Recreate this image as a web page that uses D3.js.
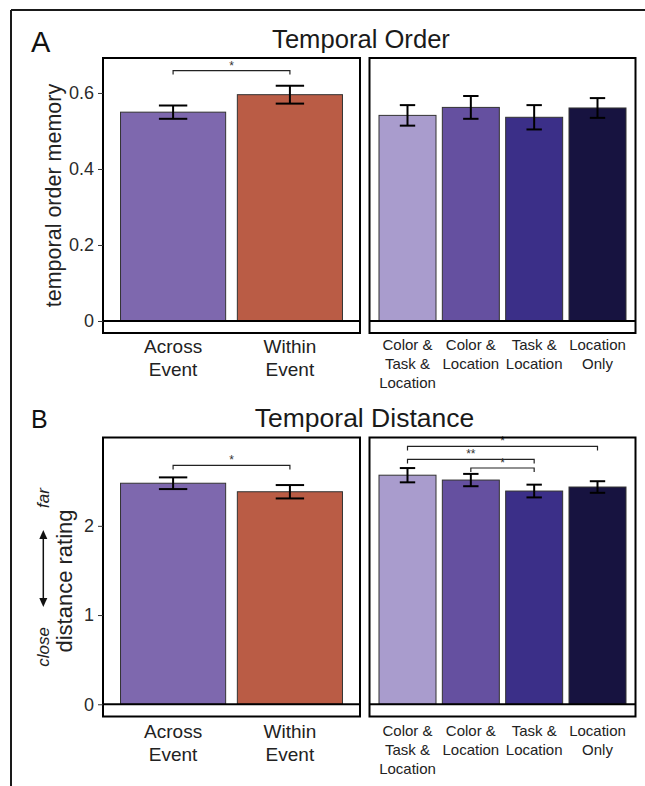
<!DOCTYPE html>
<html>
<head>
<meta charset="utf-8">
<script src="https://cdn.jsdelivr.net/npm/d3@7"></script>
<style>
  body { margin: 0; background: #fff; }
  svg { display: block; font-family: "Liberation Sans", Arial, Helvetica, sans-serif; }
</style>
</head>
<body>
<svg id="chart" width="645" height="786"></svg>
<script>
// ---- data ----
const eventCats = ["Across\nEvent", "Within\nEvent"];
const featureCats = ["Color &\nTask &\nLocation", "Color &\nLocation", "Task &\nLocation", "Location\nOnly"];

const eventColors = ["#7e68ae", "#ba5c45"];
const featureColors = ["#a99ccd", "#6550a0", "#3b2f88", "#171340"];

// temporal order memory
const orderEventMean = [0.5495, 0.5955];
const orderEventErr = [0.0175, 0.0235];
const orderFeatMean = [0.541, 0.562, 0.536, 0.5605];
const orderFeatErr = [0.027, 0.030, 0.032, 0.026];

// temporal distance rating
const distEventMean = [2.4775, 2.382];
const distEventErr = [0.0655, 0.075];
const distFeatMean = [2.5675, 2.513, 2.39, 2.435];
const distFeatErr = [0.08, 0.069, 0.0715, 0.065];

const orderTicks = [0, 0.2, 0.4, 0.6];
const distTicks = [0, 1, 2];

// significance brackets: [from index, to index, y, label]
const orderEventSig = [[0, 1, 0.659, "*"]];
const distEventSig = [[0, 1, 2.677, "*"]];
const distFeatSig = [[0, 3, 2.89, "*"], [0, 2, 2.744, "**"], [1, 2, 2.648, "*"]];

const svg = d3.select("#chart");

// outer figure frame (only top and left edges visible)
svg.append("line").attr("x1", 11).attr("x2", 645).attr("y1", 10).attr("y2", 10)
  .attr("stroke", "#1a1a1a").attr("stroke-width", 2);
svg.append("line").attr("x1", 11).attr("x2", 11).attr("y1", 10).attr("y2", 786)
  .attr("stroke", "#1a1a1a").attr("stroke-width", 2);

function drawPanel(opt) {
  const g = svg.append("g");
  const x = d3.scaleBand().domain(opt.cats).range([opt.x0, opt.x1])
    .paddingInner(0.1).paddingOuter(0.15);
  const y = opt.y;
  const rows = opt.cats.map((c, i) => ({ cat: c, mean: opt.mean[i], err: opt.err[i], color: opt.colors[i] }));

  g.selectAll("rect.bar").data(rows).join("rect")
    .attr("class", "bar")
    .attr("x", d => x(d.cat))
    .attr("width", x.bandwidth())
    .attr("y", d => y(d.mean))
    .attr("height", d => y(0) - y(d.mean))
    .attr("fill", d => d.color)
    .attr("stroke", "#333")
    .attr("stroke-width", 1);

  // error bars
  const cap = x.bandwidth() * 0.27;
  const eb = g.selectAll("g.eb").data(rows).join("g").attr("class", "eb")
    .attr("stroke", "#000").attr("stroke-width", 2);
  eb.append("line")
    .attr("x1", d => x(d.cat) + x.bandwidth() / 2).attr("x2", d => x(d.cat) + x.bandwidth() / 2)
    .attr("y1", d => y(d.mean - d.err)).attr("y2", d => y(d.mean + d.err));
  eb.append("line")
    .attr("x1", d => x(d.cat) + x.bandwidth() / 2 - cap / 2).attr("x2", d => x(d.cat) + x.bandwidth() / 2 + cap / 2)
    .attr("y1", d => y(d.mean + d.err)).attr("y2", d => y(d.mean + d.err));
  eb.append("line")
    .attr("x1", d => x(d.cat) + x.bandwidth() / 2 - cap / 2).attr("x2", d => x(d.cat) + x.bandwidth() / 2 + cap / 2)
    .attr("y1", d => y(d.mean - d.err)).attr("y2", d => y(d.mean - d.err));

  // significance brackets
  const cx = i => x(opt.cats[i]) + x.bandwidth() / 2;
  (opt.sig || []).forEach(s => {
    const yy = y(s[2]);
    g.append("path")
      .attr("d", `M${cx(s[0])},${yy + 4}V${yy}H${cx(s[1])}V${yy + 4}`)
      .attr("fill", "none").attr("stroke", "#222").attr("stroke-width", 1.2);
    g.append("text")
      .attr("x", (cx(s[0]) + cx(s[1])) / 2).attr("y", yy - 1)
      .attr("text-anchor", "middle").attr("font-size", 12).attr("fill", "#333")
      .text(s[3]);
  });

  // zero line
  g.append("line").attr("x1", opt.x0).attr("x2", opt.x1)
    .attr("y1", y(0)).attr("y2", y(0)).attr("stroke", "#000").attr("stroke-width", 2);

  // panel border
  g.append("rect").attr("x", opt.x0).attr("y", y.range()[1])
    .attr("width", opt.x1 - opt.x0).attr("height", y.range()[0] - y.range()[1])
    .attr("fill", "none").attr("stroke", "#000").attr("stroke-width", 2);

  // category labels
  const labs = g.selectAll("text.cat").data(rows).join("text")
    .attr("class", "cat")
    .attr("text-anchor", "middle")
    .attr("font-size", opt.labelSize)
    .attr("fill", "#222")
    .attr("transform", d => `translate(${x(d.cat) + x.bandwidth() / 2},${y.range()[0] + opt.labelOffset})`);
  labs.selectAll("tspan").data(d => d.cat.split("\n")).join("tspan")
    .attr("x", 0).attr("y", (d, i) => i * opt.lineHeight).text(d => d);

  if (opt.ticks) {
    const ax = g.append("g").attr("transform", `translate(${opt.x0},0)`)
      .call(d3.axisLeft(y).tickValues(opt.ticks).tickSize(5).tickPadding(4).tickFormat(d3.format("")));
    ax.select(".domain").remove();
    ax.selectAll("line").attr("stroke", "#333");
    ax.selectAll("text").attr("font-size", 18).attr("fill", "#2a2a2a")
      .attr("font-family", "'Liberation Sans', Arial, sans-serif");
  }
}

// ---- Panel A: temporal order ----
const yOrder = d3.scaleLinear().domain([-0.0316, 0.692]).range([333, 58]);
drawPanel({ cats: eventCats, mean: orderEventMean, err: orderEventErr, colors: eventColors,
  x0: 103, x1: 360, y: yOrder, ticks: orderTicks, sig: orderEventSig,
  labelSize: 19, labelOffset: 19.5, lineHeight: 23 });
drawPanel({ cats: featureCats, mean: orderFeatMean, err: orderFeatErr, colors: featureColors,
  x0: 369.5, x1: 635.5, y: yOrder, labelSize: 15, labelOffset: 17, lineHeight: 19 });

// ---- Panel B: temporal distance ----
const yDist = d3.scaleLinear().domain([-0.137, 2.99]).range([716.5, 437.5]);
drawPanel({ cats: eventCats, mean: distEventMean, err: distEventErr, colors: eventColors,
  x0: 103, x1: 360, y: yDist, ticks: distTicks, sig: distEventSig,
  labelSize: 19, labelOffset: 21.5, lineHeight: 23 });
drawPanel({ cats: featureCats, mean: distFeatMean, err: distFeatErr, colors: featureColors,
  x0: 369.5, x1: 635.5, y: yDist, sig: distFeatSig, labelSize: 15, labelOffset: 19.5, lineHeight: 19 });

// titles and panel letters
svg.append("text").attr("x", 361).attr("y", 47.5).attr("text-anchor", "middle")
  .attr("font-size", 25.6).attr("fill", "#1a1a1a").text("Temporal Order");
svg.append("text").attr("x", 364.5).attr("y", 427).attr("text-anchor", "middle")
  .attr("font-size", 26.5).attr("fill", "#1a1a1a").text("Temporal Distance");
svg.append("text").attr("x", 31).attr("y", 51.5).attr("font-size", 29).attr("fill", "#111").text("A");
svg.append("text").attr("x", 31).attr("y", 428).attr("font-size", 25).attr("fill", "#111").text("B");

// y-axis titles
svg.append("text").attr("transform", `translate(61,${(58 + 333) / 2}) rotate(-90)`)
  .attr("text-anchor", "middle").attr("font-size", 21.5).attr("fill", "#222")
  .text("temporal order memory");
svg.append("text").attr("transform", `translate(72,${(437.5 + 716.5) / 2 + 4}) rotate(-90)`)
  .attr("text-anchor", "middle").attr("font-size", 22).attr("fill", "#222")
  .text("distance rating");
svg.append("text").attr("transform", "translate(48.5,647) rotate(-90)")
  .attr("text-anchor", "middle").attr("font-size", 17).attr("font-style", "italic").attr("fill", "#222")
  .text("close");
svg.append("text").attr("transform", "translate(48.5,498) rotate(-90)")
  .attr("text-anchor", "middle").attr("font-size", 17).attr("font-style", "italic").attr("fill", "#222")
  .text("far");

// double-headed arrow
const arrowX = 43.3, arrowTop = 530, arrowBot = 607;
svg.append("line").attr("x1", arrowX).attr("x2", arrowX).attr("y1", arrowTop + 6).attr("y2", arrowBot - 6)
  .attr("stroke", "#111").attr("stroke-width", 1.5);
svg.append("path").attr("d", `M${arrowX},${arrowTop}l-4,9h8z`).attr("fill", "#111");
svg.append("path").attr("d", `M${arrowX},${arrowBot}l-4,-9h8z`).attr("fill", "#111");
</script>
</body>
</html>
